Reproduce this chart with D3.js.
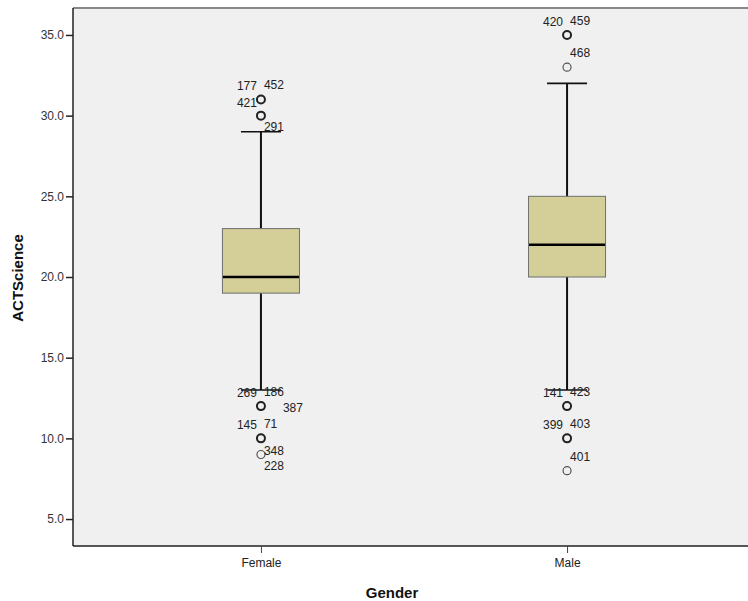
<!DOCTYPE html>
<html>
<head>
<meta charset="utf-8">
<script src="https://cdn.jsdelivr.net/npm/d3@7"></script>
<style>
  body { margin: 0; background: #fff; }
  text { font-family: Arial, "Liberation Sans", sans-serif; }
</style>
</head>
<body>
<script>
const groups = ["Female", "Male"];
const q1 = [19, 20];
const medians = [20, 22];
const q3 = [23, 25];
const whiskerLow = [13, 13];
const whiskerHigh = [29, 32];
const yTicks = [5, 10, 15, 20, 25, 30, 35];

// outliers: group, value, number of cases, case ids
const outlierGroup = ["Female", "Female", "Female", "Female", "Female", "Male", "Male", "Male", "Male", "Male"];
const outlierValue = [31, 30, 12, 10, 9, 35, 33, 12, 10, 8];
const outlierCases = [2, 2, 3, 2, 1, 2, 1, 2, 2, 1];
const outlierIds = [
    ["177", "452"], ["421", "291"], ["269", "186", "387"], ["145", "71"], ["348", "228"],
    ["420", "459"], ["468"], ["141", "423"], ["399", "403"], ["401"]
];

// where each case id label sits around its circle
const labelSpot = [
    ["la", "ra"], ["la", "rb"], ["la", "ra", "rr"], ["la", "ra"], ["r", "rb"],
    ["la", "ra"], ["ra"], ["la", "ra"], ["la", "ra"], ["ra"]
];
const spots = {
    la: { dx: -4, dy: -13, anchor: "end" },
    ra: { dx: 3, dy: -14, anchor: "start" },
    rb: { dx: 3, dy: 11, anchor: "start" },
    r:  { dx: 3, dy: -4, anchor: "start" },
    rr: { dx: 22, dy: 2, anchor: "start" }
};

const width = 748, height = 601;
const margin = { top: 8, right: -7, bottom: 55, left: 73 };

const svg = d3.select("body").append("svg")
    .attr("width", width)
    .attr("height", height);

const x = d3.scalePoint()
    .domain(groups)
    .range([margin.left, width - margin.right])
    .padding(0.614);

const y = d3.scaleLinear()
    .domain([3.33, 36.67])
    .range([height - margin.bottom, margin.top]);

// plot background
svg.append("rect")
    .attr("x", margin.left)
    .attr("y", margin.top)
    .attr("width", width - margin.right - margin.left)
    .attr("height", height - margin.bottom - margin.top)
    .attr("fill", "#f0f0f0");

svg.append("line")
    .attr("x1", margin.left).attr("x2", width)
    .attr("y1", margin.top).attr("y2", margin.top)
    .attr("stroke", "#888").attr("stroke-width", 2);

const boxW = 77, capW = 40;

const boxes = svg.append("g").selectAll("g")
    .data(groups)
    .enter().append("g");

boxes.append("line")
    .attr("x1", d => x(d)).attr("x2", d => x(d))
    .attr("y1", (d, i) => y(whiskerLow[i]))
    .attr("y2", (d, i) => y(whiskerHigh[i]))
    .attr("stroke", "#111").attr("stroke-width", 2);

boxes.selectAll("line.cap")
    .data((d, i) => [{ g: d, v: whiskerLow[i] }, { g: d, v: whiskerHigh[i] }])
    .enter().append("line")
    .attr("class", "cap")
    .attr("x1", d => x(d.g) - capW / 2).attr("x2", d => x(d.g) + capW / 2)
    .attr("y1", d => y(d.v)).attr("y2", d => y(d.v))
    .attr("stroke", "#111").attr("stroke-width", 1.6);

boxes.append("rect")
    .attr("x", d => x(d) - boxW / 2)
    .attr("y", (d, i) => y(q3[i]))
    .attr("width", boxW)
    .attr("height", (d, i) => y(q1[i]) - y(q3[i]))
    .attr("fill", "#d4cf98")
    .attr("stroke", "#6e6e6e").attr("stroke-width", 1);

boxes.append("line")
    .attr("x1", d => x(d) - boxW / 2 + 0.5).attr("x2", d => x(d) + boxW / 2 - 0.5)
    .attr("y1", (d, i) => y(medians[i])).attr("y2", (d, i) => y(medians[i]))
    .attr("stroke", "#000").attr("stroke-width", 2.5);

// outliers
const outliers = outlierValue.map((v, i) => ({
    g: outlierGroup[i], v: v, n: outlierCases[i], ids: outlierIds[i], spots: labelSpot[i]
}));

const out = svg.append("g").selectAll("g")
    .data(outliers)
    .enter().append("g");

out.append("circle")
    .attr("cx", d => x(d.g))
    .attr("cy", d => y(d.v))
    .attr("r", 4)
    .attr("fill", "none")
    .attr("stroke", d => d.n > 1 ? "#222" : "#555")
    .attr("stroke-width", d => d.n > 1 ? 2 : 1.2);

out.selectAll("text")
    .data(d => d.ids.map((id, j) => ({ id: id, g: d.g, v: d.v, s: spots[d.spots[j]] })))
    .enter().append("text")
    .attr("x", d => x(d.g) + d.s.dx)
    .attr("y", d => y(d.v) + d.s.dy + 4)
    .attr("text-anchor", d => d.s.anchor)
    .attr("font-size", 12)
    .attr("fill", "#222")
    .text(d => d.id);

// axes
const yAxis = svg.append("g")
    .attr("transform", "translate(" + margin.left + ",0)")
    .call(d3.axisLeft(y).tickValues(yTicks).tickFormat(d3.format(".1f")).tickSize(7).tickPadding(2));
yAxis.select(".domain").attr("stroke", "#222").attr("stroke-width", 1.5)
    .attr("d", "M0," + margin.top + "V" + (height - margin.bottom));
yAxis.selectAll(".tick line").attr("stroke", "#222").attr("stroke-width", 1.5);
yAxis.selectAll(".tick text").attr("font-size", 12).attr("fill", "#333")
    .attr("font-family", "Arial, 'Liberation Sans', sans-serif");

const xAxis = svg.append("g")
    .attr("transform", "translate(0," + (height - margin.bottom) + ")")
    .call(d3.axisBottom(x).tickSize(7).tickPadding(5));
xAxis.select(".domain").attr("stroke", "#222").attr("stroke-width", 1.5)
    .attr("d", "M" + margin.left + ",0H" + width);
xAxis.selectAll(".tick line").attr("stroke", "#444").attr("stroke-width", 1);
xAxis.selectAll(".tick text").attr("font-size", 12).attr("fill", "#222")
    .attr("font-family", "Arial, 'Liberation Sans', sans-serif");

svg.append("text")
    .attr("x", 392)
    .attr("y", 598)
    .attr("text-anchor", "middle")
    .attr("font-size", 15)
    .attr("font-weight", "bold")
    .attr("fill", "#111")
    .text("Gender");

svg.append("text")
    .attr("transform", "translate(23," + 278 + ") rotate(-90)")
    .attr("text-anchor", "middle")
    .attr("font-size", 15)
    .attr("font-weight", "bold")
    .attr("fill", "#111")
    .text("ACTScience");
</script>
</body>
</html>
